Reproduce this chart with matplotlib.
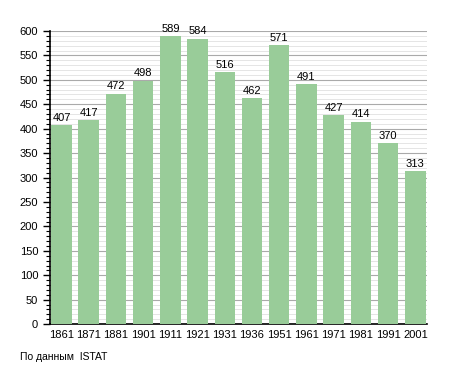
import matplotlib
matplotlib.use('Agg')
import matplotlib.pyplot as plt
import matplotlib.ticker as ticker

years = ["1861", "1871", "1881", "1901", "1911", "1921", "1931",
         "1936", "1951", "1961", "1971", "1981", "1991", "2001"]
population = [407, 417, 472, 498, 589, 584, 516, 462, 571, 491, 427, 414, 370, 313]

fig = plt.figure(figsize=(4.55, 3.73), dpi=100)
ax = fig.add_axes([0.110, 0.131, 0.828, 0.786])

x = list(range(len(years)))
ax.bar(x, population, width=0.75, color='#99cc99', zorder=3)

for xi, v in zip(x, population):
    ax.text(xi, v + 5, str(v), ha='center', va='bottom', fontsize=8,
            family='Liberation Sans', zorder=4)

ax.set_xlim(-0.42, 13.42)
ax.set_ylim(0, 600)
ax.set_xticks(x)
ax.set_xticklabels(years)
ax.yaxis.set_major_locator(ticker.MultipleLocator(50))
ax.yaxis.set_minor_locator(ticker.MultipleLocator(10))

ax.grid(True, axis='y', which='major', color='#aaaaaa', linewidth=0.8, zorder=0)
ax.grid(True, axis='y', which='minor', color='#e0e0e0', linewidth=0.6, zorder=0)

for side in ['top', 'right']:
    ax.spines[side].set_visible(False)
ax.spines['left'].set_linewidth(1.2)
ax.spines['bottom'].set_linewidth(1.2)
ax.tick_params(axis='x', length=0, pad=4, labelsize=8)
ax.tick_params(axis='y', which='major', length=5, width=1, labelsize=8)
ax.tick_params(axis='y', which='minor', length=3, width=0.8)
for lbl in ax.get_xticklabels() + ax.get_yticklabels():
    lbl.set_family('Liberation Sans')

fig.text(0.044, 0.035, "По данным  ISTAT", fontsize=7.5, family='Liberation Sans')

fig.savefig("out.png", dpi=100)
